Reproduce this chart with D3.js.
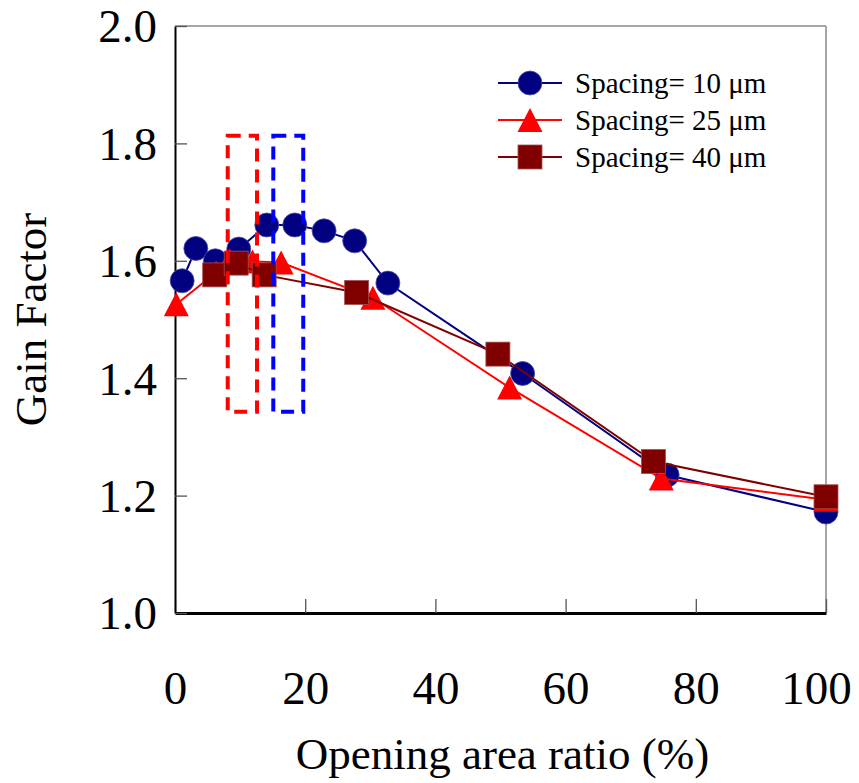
<!DOCTYPE html>
<html>
<head>
<meta charset="utf-8">
<script src="https://cdn.jsdelivr.net/npm/d3@7"></script>
<style>
  body { margin: 0; background: #fff; }
  svg { display: block; font-family: "Liberation Serif", "Times New Roman", serif; }
</style>
</head>
<body>
<svg id="chart" width="859" height="783"></svg>
<script>
  // data
  var xTicks = [0, 20, 40, 60, 80, 100];
  var yTicks = [1.0, 1.2, 1.4, 1.6, 1.8, 2.0];

  var spacing10 = [
    [1.1, 1.566], [3.2, 1.621], [6.2, 1.600], [9.8, 1.620], [14.1, 1.661],
    [18.4, 1.661], [22.9, 1.651], [27.6, 1.634], [32.7, 1.562],
    [53.4, 1.408], [75.6, 1.235], [100, 1.172]
  ];
  var spacing25 = [
    [0.2, 1.526], [6.3, 1.580], [8.4, 1.601], [11.9, 1.599], [16.3, 1.597],
    [30.4, 1.537], [51.4, 1.384], [74.7, 1.229], [100, 1.193]
  ];
  var spacing40 = [
    [6.1, 1.576], [9.4, 1.596], [13.7, 1.576], [27.9, 1.546],
    [49.6, 1.441], [73.5, 1.258], [100, 1.198]
  ];
  var seriesNames = ['Spacing= 10 \u03bcm', 'Spacing= 25 \u03bcm', 'Spacing= 40 \u03bcm'];

  // the two dashed windows: [x0, x1, y0, y1]
  var boxes = [
    { name: 'red', range: [8.1, 12.6, 1.343, 1.813] },
    { name: 'blue', range: [15.1, 19.7, 1.343, 1.813] }
  ];

  (function () {
    var svg = d3.select('#chart');
    var padLeft = 175, padRight = 826, padTop = 26, padBottom = 613;

    var xScale = d3.scaleLinear().domain([0, 100]).range([padLeft, padRight]);
    var yScale = d3.scaleLinear().domain([1, 2]).range([padBottom, padTop]);

    var series = [
      { data: spacing10, color: '#000080', marker: 'circle' },
      { data: spacing25, color: '#ff0000', marker: 'triangle' },
      { data: spacing40, color: '#800000', marker: 'square' }
    ];

    function drawMarker(g, type, color, cx, cy) {
      if (type === 'circle') {
        g.append('circle').attr('cx', cx).attr('cy', cy).attr('r', 12)
          .attr('fill', color).attr('stroke', '#5050a8').attr('stroke-width', 0.8);
      } else if (type === 'triangle') {
        g.append('path')
          .attr('d', 'M' + cx + ',' + (cy - 12) + 'L' + (cx + 12.5) + ',' + (cy + 12) +
                     'L' + (cx - 12.5) + ',' + (cy + 12) + 'Z')
          .attr('fill', color);
      } else {
        g.append('rect').attr('x', cx - 12).attr('y', cy - 12)
          .attr('width', 24).attr('height', 24)
          .attr('fill', color).attr('stroke', '#a05050').attr('stroke-width', 0.8);
      }
    }

    // frame
    svg.append('line').attr('x1', padLeft).attr('x2', padRight).attr('y1', padTop).attr('y2', padTop)
      .attr('stroke', '#888').attr('stroke-width', 1.5);
    svg.append('line').attr('x1', padRight).attr('x2', padRight).attr('y1', padTop).attr('y2', padBottom)
      .attr('stroke', '#888').attr('stroke-width', 1.5);

    var xAxis = svg.append('g')
      .attr('transform', 'translate(0,' + padBottom + ')')
      .call(d3.axisBottom(xScale).tickValues(xTicks).tickSizeInner(-14).tickSizeOuter(0).tickPadding(0).tickFormat(d3.format('d')));
    xAxis.select('.domain').attr('stroke', '#000').attr('stroke-width', 3);
    xAxis.selectAll('.tick line').attr('stroke', '#555').attr('stroke-width', 1.3);
    xAxis.selectAll('.tick text')
      .attr('y', 91).attr('dy', null)
      .attr('font-size', 47).attr('fill', '#000')
      .attr('font-family', '"Liberation Serif", serif');
    // last label sits a little left so it stays inside the picture
    xAxis.selectAll('.tick text').filter(function (d) { return d === 100; })
      .attr('x', -10);

    var yAxis = svg.append('g')
      .attr('transform', 'translate(' + padLeft + ',0)')
      .call(d3.axisLeft(yScale).tickValues(yTicks).tickSizeInner(-12).tickSizeOuter(0).tickPadding(0).tickFormat(d3.format('.1f')));
    yAxis.select('.domain').attr('stroke', '#000').attr('stroke-width', 2);
    yAxis.selectAll('.tick line').attr('stroke', '#555').attr('stroke-width', 1.3);
    yAxis.selectAll('.tick text')
      .attr('x', -18).attr('dy', '0.34em')
      .attr('font-size', 47).attr('fill', '#000')
      .attr('font-family', '"Liberation Serif", serif');

    // series
    var lineFun = d3.line()
      .x(function (d) { return xScale(d[0]); })
      .y(function (d) { return yScale(d[1]); });

    series.forEach(function (s) {
      var g = svg.append('g');
      g.append('path').datum(s.data).attr('d', lineFun)
        .attr('fill', 'none').attr('stroke', s.color).attr('stroke-width', 2);
      s.data.forEach(function (d) {
        drawMarker(g, s.marker, s.color, xScale(d[0]), yScale(d[1]));
      });
    });

    // dashed windows
    boxes.forEach(function (b) {
      var r = b.range;
      svg.append('rect')
        .attr('x', xScale(r[0])).attr('y', yScale(r[3]))
        .attr('width', xScale(r[1]) - xScale(r[0]))
        .attr('height', yScale(r[2]) - yScale(r[3]))
        .attr('fill', 'none').attr('stroke', b.name === 'red' ? '#ff0000' : '#0000ff')
        .attr('stroke-width', 4).attr('stroke-dasharray', '13,8');
    });

    // legend
    var legend = svg.append('g').attr('transform', 'translate(498,83)');
    series.forEach(function (s, i) {
      var row = legend.append('g').attr('transform', 'translate(0,' + (i * 37) + ')');
      row.append('line').attr('x1', 0).attr('x2', 64).attr('y1', 0).attr('y2', 0)
        .attr('stroke', s.color).attr('stroke-width', 2);
      drawMarker(row, s.marker, s.color, 32, 0);
      row.append('text').attr('x', 77).attr('y', 10)
        .attr('font-size', 29).text(seriesNames[i]);
    });

    // axis titles
    svg.append('text')
      .attr('x', (padLeft + padRight) / 2 + 2).attr('y', 769)
      .attr('text-anchor', 'middle').attr('font-size', 45)
      .text('Opening area ratio (%)');

    svg.append('text')
      .attr('transform', 'translate(46,' + ((padTop + padBottom) / 2) + ') rotate(-90)')
      .attr('text-anchor', 'middle').attr('font-size', 45)
      .text('Gain Factor');
  })();
</script>
</body>
</html>
